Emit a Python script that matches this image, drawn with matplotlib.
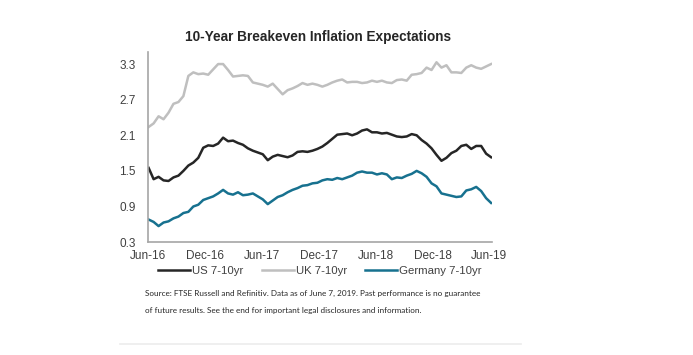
import numpy as np
import pandas as pd
import matplotlib.pyplot as plt
import matplotlib.dates as mdates

# roughly every 16 days, Jun 2016 - Jun 7 2019
dates = pd.date_range("2016-06-03", "2019-06-07", periods=70)

us = [1.55, 1.36, 1.40, 1.34, 1.33, 1.39, 1.42, 1.50, 1.59, 1.64,
      1.72, 1.89, 1.93, 1.92, 1.96, 2.06, 2.00, 2.01, 1.97, 1.94,
      1.88, 1.84, 1.81, 1.78, 1.68, 1.74, 1.77, 1.75, 1.73, 1.76,
      1.82, 1.83, 1.82, 1.84, 1.87, 1.91, 1.97, 2.04, 2.11, 2.12,
      2.13, 2.10, 2.13, 2.18, 2.20, 2.15, 2.15, 2.13, 2.14, 2.11,
      2.08, 2.07, 2.08, 2.12, 2.10, 2.02, 1.96, 1.88, 1.77, 1.67,
      1.72, 1.80, 1.84, 1.92, 1.94, 1.87, 1.92, 1.92, 1.79, 1.73]

uk = [2.24, 2.30, 2.42, 2.37, 2.48, 2.63, 2.66, 2.76, 3.10, 3.16,
      3.13, 3.14, 3.12, 3.21, 3.30, 3.30, 3.20, 3.09, 3.10, 3.11,
      3.10, 2.99, 2.97, 2.95, 2.92, 2.97, 2.88, 2.79, 2.86, 2.89,
      2.93, 2.98, 2.95, 2.97, 2.95, 2.92, 2.95, 2.99, 3.02, 3.04,
      2.99, 3.00, 3.00, 2.98, 2.99, 3.02, 3.00, 3.02, 2.99, 2.98,
      3.03, 3.04, 3.02, 3.12, 3.13, 3.15, 3.24, 3.20, 3.33, 3.24,
      3.28, 3.16, 3.16, 3.15, 3.24, 3.28, 3.24, 3.22, 3.26, 3.30]

germany = [0.68, 0.64, 0.57, 0.63, 0.65, 0.70, 0.73, 0.79, 0.81, 0.90,
           0.93, 1.01, 1.04, 1.07, 1.12, 1.18, 1.12, 1.10, 1.14, 1.09,
           1.10, 1.12, 1.07, 1.02, 0.94, 1.00, 1.06, 1.09, 1.14, 1.18,
           1.21, 1.25, 1.26, 1.29, 1.30, 1.34, 1.36, 1.35, 1.38, 1.36,
           1.39, 1.42, 1.47, 1.49, 1.47, 1.47, 1.44, 1.46, 1.44, 1.36,
           1.39, 1.38, 1.42, 1.45, 1.50, 1.46, 1.40, 1.29, 1.24, 1.12,
           1.10, 1.08, 1.06, 1.07, 1.17, 1.19, 1.23, 1.16, 1.04, 0.96]

yticks = [0.3, 0.9, 1.5, 2.1, 2.7, 3.3]
xticks = ["2016-06-01", "2016-12-01", "2017-06-01", "2017-12-01",
          "2018-06-01", "2018-12-01", "2019-06-01"]

plt.rcParams['font.family'] = ['Liberation Sans', 'DejaVu Sans']

fig = plt.figure(figsize=(6.93, 3.55), dpi=100)
ax = fig.add_axes([0.2136, 0.318, 0.4964, 0.535])

ax.plot(dates, us, color='#262626', lw=1.8, label='US 7-10yr')
ax.plot(dates, uk, color='#bfbfbf', lw=1.8, label='UK 7-10yr')
ax.plot(dates, germany, color='#17718f', lw=1.8, label='Germany 7-10yr')

ax.set_ylim(0.3, 3.5)
ax.set_xlim(pd.Timestamp("2016-06-01"), pd.Timestamp("2019-06-10"))
ax.set_yticks(yticks)
ax.set_yticklabels([f"{v:.1f}" for v in yticks])
ax.set_xticks(pd.to_datetime(xticks))
ax.xaxis.set_major_formatter(mdates.DateFormatter('%b-%y'))
ax.tick_params(length=0, labelsize=8.5, colors='#404040', pad=6)
ax.tick_params(axis='y', pad=9)

for s in ['top', 'right']:
    ax.spines[s].set_visible(False)
for s in ['left', 'bottom']:
    ax.spines[s].set_color('#a6a6a6')
    ax.spines[s].set_linewidth(1.2)

fig.text(0.459, 0.895, "10-Year Breakeven Inflation Expectations",
         ha='center', va='center', fontsize=9.8, fontweight='bold',
         color='#262626')

ax.legend(loc='upper center', bbox_to_anchor=(0.5, -0.07), ncol=3,
          frameon=False, fontsize=8.2, handlelength=2.8, handletextpad=0.2,
          columnspacing=1.6, labelcolor='#404040')

fig.text(0.209, 0.165, "Source: FTSE Russell and Refinitiv. Data as of June 7, 2019. "
         "Past performance is no guarantee", fontsize=5.9, color='#262626',
         family=['Lato', 'DejaVu Sans'])
fig.text(0.209, 0.117, "of future results. See the end for important legal "
         "disclosures and information.", fontsize=5.9, color='#262626',
         family=['Lato', 'DejaVu Sans'])

fig.add_artist(plt.Line2D([0.173, 0.752], [0.032, 0.032], color='#ececec',
                          lw=1.2, transform=fig.transFigure))

fig.savefig("out.png", dpi=100)
